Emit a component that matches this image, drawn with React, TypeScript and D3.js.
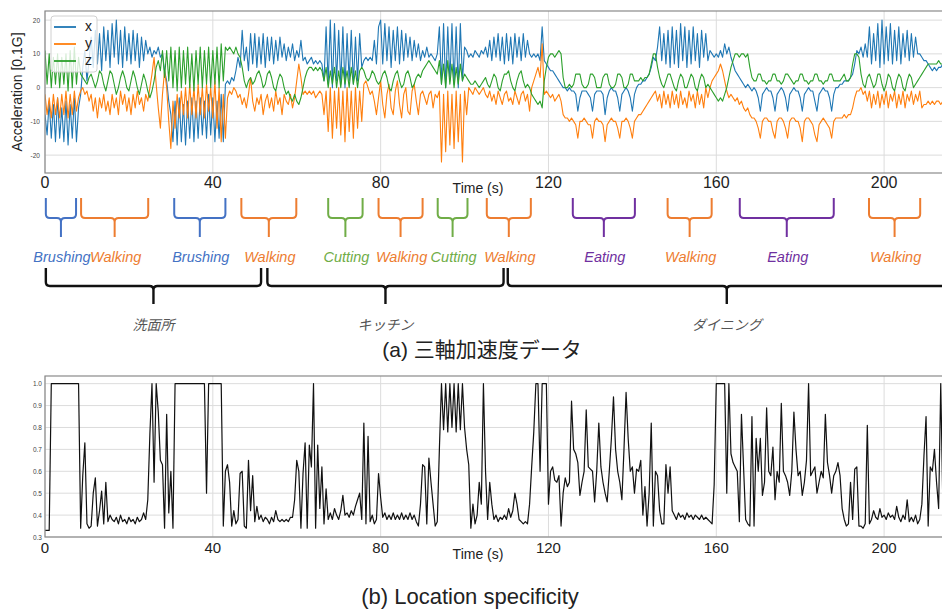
import React, { useEffect, useRef } from 'react';
import * as d3 from 'd3';

// The traced series are sampled every half second, starting at t = 0.
const STEP = 0.5;

// Acceleration, x axis [0.1G]
const accX = [
  -8, -14, -4, -15, -5, -16, -3, -15, -6, -16, -4, -17, -5, -15, -3, -16, -6, -2, 6, 11,
  2, 8, 15, 6, 17, 7, 16, 5, 18, 8, 17, 6, 19, 9, 20, 7, 17, 6, 18, 8,
  16, 7, 17, 8, 16, 6, 15, 8, 14, 10, 12, 9, 11, 10, 12, 9, 10, 5, 2, -4,
  -8, -16, -4, -17, -3, -16, -5, -17, -4, -15, -3, -16, -4, -15, -3, -14, -4, -15, -2, -14,
  -3, -16, -4, -15, -2, -16, 1, 2, 1, 3, 2, 5, 9, 6, 17, 8, 12, 5, 16, 7,
  16, 6, 15, 7, 16, 6, 15, 8, 15, 7, 14, 8, 15, 9, 13, 8, 12, 9, 13, 8,
  11, 9, 14, 8, 9, 7, 8, 9, 7, 8, 7, 8, 7, 2, 18, 1, 20, 0, 19, 2,
  17, 1, 18, 0, 16, 2, 17, 1, 15, 2, 16, 6, 8, 9, 8, 9, 8, 14, 7, 18,
  20, 7, 19, 8, 18, 6, 17, 8, 18, 7, 17, 8, 16, 9, 15, 8, 14, 9, 13, 8,
  11, 9, 12, 9, 10, 9, 8, 10, 18, 1, 19, 0, 18, 2, 19, 1, 18, 0, 19, 2,
  12, 11, 9, 10, 9, 11, 10, 9, 11, 10, 12, 9, 14, 8, 15, 9, 16, 8, 15, 7,
  16, 8, 15, 7, 16, 9, 15, 8, 16, 9, 14, 10, 9, 10, 9, 10, 8, 18, 8, 7,
  6, 5, 5, 4, 3, 2, 1, 0, 0, -1, 0, -1, -1, -2, -7, -3, -1, -1, -1, -2,
  -3, -7, -2, -1, -1, -1, -2, -8, -3, -1, 0, -1, -1, -3, -7, -2, -1, 0, -1, -3,
  -7, -2, 0, 1, 1, 2, 2, 3, 4, 6, 9, 8, 12, 18, 8, 16, 7, 17, 6, 18,
  7, 17, 6, 19, 8, 18, 6, 17, 7, 18, 8, 16, 6, 17, 9, 16, 8, 11, 10, 9,
  10, 9, 11, 9, 13, 10, 12, 9, 7, 5, 4, 3, 2, 1, 0, 1, 0, -1, 0, -1,
  -3, -7, -2, -1, 0, -1, -1, -3, -7, -2, -1, 0, -1, -3, -7, -2, -1, 0, -1, -1,
  -3, -7, -2, -1, 0, -1, -1, -4, -7, -2, -1, 0, -1, -1, -3, -7, -2, 0, 0, 1,
  1, 2, 2, 2, 3, 4, 7, 11, 10, 12, 9, 13, 9, 18, 7, 16, 8, 19, 6, 20,
  7, 18, 8, 19, 7, 17, 8, 18, 7, 16, 9, 17, 8, 16, 9, 15, 10, 10, 9, 8,
  8, 7, 6, 5, 6, 5, 6, 6, 7,
];

// Acceleration, y axis [0.1G]
const accY = [
  -2, -8, -3, -9, -2, -8, -3, -9, -2, -8, -1, -9, -2, -8, -1, -7, -3, -1, 0, -2,
  -1, -4, -2, -7, -3, -9, -3, -6, -2, -7, -4, -8, -2, -6, -3, -8, -1, -5, -2, -7,
  -3, -8, -2, -6, -1, -5, -3, -7, -2, -4, 0, 4, 9, 1, -6, -12, -2, 5, 0, -10,
  -18, -4, -12, -2, -9, -1, -8, 0, -9, 1, -8, 0, -9, 1, -8, 0, -9, 1, -7, 0,
  -9, 2, -12, 0, -16, -2, -15, -3, -1, -2, 0, -1, -3, -2, -5, -3, -6, -2, 3, -4,
  -7, -3, -5, -2, -8, -4, -2, -6, -3, -7, -1, -5, -3, -8, -2, -4, -5, -2, -6, -3,
  2, 7, 3, -2, -1, -2, -1, -2, -1, -3, -2, -1, -2, -8, -1, -13, 0, -15, -1, -12,
  0, -14, -1, -16, 0, -13, -1, -15, 0, -12, -1, -10, 1, 2, 0, -2, -1, -4, -8, -3,
  2, -5, -9, -2, 1, -6, -8, -1, 2, -5, -9, -2, 0, -7, -8, -1, 1, -4, -8, -2,
  -1, -3, -5, -2, -1, -6, -2, -3, -1, -22, -2, -19, -1, -17, -2, -18, -1, -16, -2, -22,
  -1, -8, 0, -1, -2, 0, -1, -2, -1, 0, -2, -3, -1, -4, -2, -5, -1, -3, -5, -2,
  -1, -4, -3, -5, -1, -3, -5, -2, -1, -4, -2, -7, 0, 2, 4, 6, 3, 13, -2, -1,
  -2, -3, -2, -4, -3, -2, -4, -8, -9, -9, -10, -9, -10, -11, -15, -10, -10, -9, -10, -11,
  -11, -15, -10, -9, -10, -10, -11, -16, -11, -10, -9, -10, -10, -12, -15, -10, -10, -9, -10, -12,
  -15, -10, -9, -8, -8, -7, -6, -5, -4, -3, -2, -1, -4, -2, -6, -1, -5, -2, -6, -1,
  -5, -2, -6, -1, -5, -3, -6, -1, -4, -2, -6, -1, -5, -2, -6, 0, -3, 0, 2, 3,
  4, 5, 7, 5, 2, -1, -3, -2, -3, -4, -3, -5, -4, -6, -7, -6, -8, -9, -9, -10,
  -12, -15, -10, -9, -9, -10, -10, -13, -15, -10, -9, -9, -10, -12, -15, -10, -9, -9, -10, -10,
  -12, -16, -10, -9, -9, -10, -11, -14, -16, -11, -10, -9, -10, -11, -12, -15, -10, -9, -9, -9,
  -9, -8, -9, -8, -8, -6, -3, -1, -1, 0, -2, -1, -4, -1, -6, -2, -5, -1, -6, -2,
  -5, -1, -6, -2, -4, -1, -6, -2, -5, -1, -6, -2, -4, -1, -5, -2, -4, -1, -6, -5,
  -5, -4, -5, -4, -5, -4, -4, -5, -4,
];

// Acceleration, z axis [0.1G]
const accZ = [
  11, 1, 10, 0, 9, 1, 10, 0, 9, 1, 10, -1, 11, 0, 12, 1, 9, 4, 3, 2,
  1, 3, 4, 2, 0, 2, 5, 4, 1, -1, 2, 5, 4, 1, -2, 0, 3, 5, 3, 0,
  -1, 2, 5, 3, 0, -2, 1, 4, 2, -1, -3, -1, 2, 6, 8, 5, 11, 3, 11, 2,
  12, 0, 11, -1, 12, 0, 11, 1, 12, 0, 10, -1, 11, 1, 12, 0, 11, 1, 12, 0,
  11, 1, 12, 0, 13, 2, 12, 11, 12, 11, 10, 12, 10, 9, 6, 2, 0, 2, 3, 1,
  2, 4, 5, 3, 0, 1, 4, 5, 3, 0, -1, 2, 4, 3, 0, -2, -1, -3, -4, -2,
  -4, -5, -3, 0, 3, 5, 6, 6, 5, 6, 5, 6, 5, 2, 6, 0, 5, 1, 6, 0,
  5, 0, 6, 1, 5, 0, 6, 1, 5, 0, 5, 6, 5, 3, 2, 3, 5, 4, 2, 1,
  2, 4, 5, 3, 0, -1, 2, 4, 5, 2, 0, 1, 4, 5, 3, 0, 1, 3, 4, 3,
  5, 6, 7, 8, 7, 6, 5, 4, 8, 1, 7, 0, 8, 1, 7, 0, 6, 1, 7, 2,
  4, 3, 2, 1, 1, 2, 1, 0, 1, 2, 3, 1, 0, 2, 4, 3, 0, -1, 2, 4,
  4, 5, 2, 0, -1, 2, 4, 5, 2, 0, 1, 0, -2, -3, -4, -5, -4, -6, 2, 6,
  9, 10, 10, 9, 10, 11, 10, 3, 0, 0, 1, 0, 1, 4, 4, 4, 1, 0, 0, 1,
  4, 4, 3, 0, 0, 0, 3, 4, 4, 1, 0, 0, 1, 4, 4, 3, 0, 0, 1, 4,
  4, 2, 2, 2, 3, 2, 3, 3, 4, 7, 10, 10, 6, 3, 1, 0, 2, 4, 4, 2,
  0, -1, 2, 4, 3, 0, 0, 2, 4, 3, 0, -1, 2, 4, 3, 0, 1, 0, -1, -2,
  -3, -4, -3, -4, -2, 0, 3, 6, 8, 10, 10, 9, 10, 10, 9, 10, 6, 3, 2, 2,
  4, 4, 2, 2, 1, 2, 2, 4, 4, 2, 2, 1, 2, 4, 4, 3, 2, 1, 2, 2,
  4, 4, 2, 2, 1, 2, 2, 4, 4, 2, 2, 1, 2, 2, 4, 4, 2, 2, 2, 2,
  3, 4, 2, 2, 3, 7, 10, 10, 9, 4, 1, 0, 3, 4, 2, 0, 1, 4, 4, 1,
  -1, 1, 4, 3, 0, -1, 2, 4, 3, 0, -1, 2, 4, 3, 0, 1, 2, 3, 4, 5,
  6, 7, 7, 7, 7, 7, 8, 7, 7,
];

// Location specificity
const specificity = [
  0.33, 0.33, 0.33, 1, 1, 1, 1, 1, 1, 1, 1, 1, 1, 1, 1, 1, 1, 0.34, 0.58, 0.73,
  0.36, 0.34, 0.35, 0.5, 0.57, 0.35, 0.42, 0.51, 0.36, 0.55, 0.37, 0.4, 0.38, 0.37, 0.39, 0.36, 0.4, 0.37, 0.38, 0.36,
  0.39, 0.37, 0.38, 0.36, 0.39, 0.37, 0.38, 0.41, 0.38, 0.47, 0.77, 1, 0.55, 1, 0.87, 0.65, 0.63, 0.34, 0.86, 0.41,
  0.6, 0.34, 1, 1, 1, 1, 1, 1, 1, 1, 1, 1, 1, 1, 1, 1, 1, 0.5, 1, 1,
  1, 1, 1, 1, 1, 0.35, 0.6, 0.63, 0.55, 0.35, 0.42, 0.36, 0.38, 0.59, 0.6, 0.35, 0.34, 0.65, 0.42, 0.58,
  0.37, 0.44, 0.38, 0.4, 0.37, 0.39, 0.38, 0.36, 0.39, 0.37, 0.42, 0.38, 0.37, 0.38, 0.37, 0.38, 0.37, 0.39, 0.39, 0.47,
  0.65, 0.6, 0.34, 0.59, 0.73, 0.34, 0.72, 0.62, 1, 0.34, 0.72, 0.43, 0.62, 0.36, 0.52, 0.38, 0.41, 0.38, 0.43, 0.4,
  0.38, 0.42, 0.49, 0.4, 0.41, 0.39, 0.42, 0.4, 0.44, 0.47, 0.5, 0.38, 0.82, 0.36, 0.76, 0.37, 0.4, 0.36, 0.38, 0.59,
  0.48, 0.39, 0.41, 0.38, 0.4, 0.38, 0.41, 0.38, 0.4, 0.38, 0.41, 0.38, 0.4, 0.38, 0.41, 0.38, 0.4, 0.37, 0.35, 0.45,
  0.63, 0.62, 0.36, 0.66, 0.55, 0.45, 0.35, 0.37, 0.7, 1, 0.79, 1, 0.78, 1, 0.8, 1, 0.78, 1, 0.79, 1,
  0.8, 0.7, 0.63, 0.34, 0.45, 0.36, 0.4, 0.55, 0.45, 1, 0.6, 0.38, 0.55, 0.45, 0.38, 0.4, 0.37, 0.39, 0.38, 0.4,
  0.38, 0.43, 0.39, 0.42, 0.5, 0.45, 0.38, 0.37, 0.36, 0.37, 0.36, 0.45, 0.62, 0.78, 1, 1, 0.6, 1, 1, 1,
  0.45, 0.6, 0.62, 0.56, 0.55, 0.58, 0.35, 0.5, 0.57, 0.53, 0.55, 0.92, 0.7, 0.68, 0.64, 0.49, 0.55, 0.6, 0.88, 0.62,
  0.61, 0.6, 0.46, 0.6, 0.82, 0.62, 0.55, 0.5, 0.46, 0.6, 0.75, 0.94, 0.7, 0.6, 0.55, 0.47, 0.7, 0.96, 0.75, 0.6,
  0.62, 0.5, 0.61, 0.6, 0.65, 0.4, 0.53, 0.35, 0.5, 0.82, 0.35, 0.6, 0.58, 0.42, 0.36, 0.36, 0.63, 0.5, 0.62, 0.42,
  0.4, 0.38, 0.41, 0.39, 0.4, 0.38, 0.41, 0.39, 0.4, 0.38, 0.4, 0.39, 0.38, 0.4, 0.38, 0.39, 0.38, 0.37, 0.36, 0.54,
  1, 1, 1, 1, 1, 0.5, 1, 0.68, 0.64, 0.62, 0.6, 0.37, 0.86, 0.62, 0.38, 0.36, 0.35, 0.85, 0.35, 0.75,
  0.6, 0.75, 0.49, 0.55, 0.89, 0.6, 0.58, 0.71, 0.47, 0.6, 0.55, 0.91, 0.6, 0.58, 0.55, 0.49, 0.6, 0.87, 0.7, 0.58,
  0.6, 0.49, 0.55, 0.65, 1, 0.58, 0.6, 0.62, 0.5, 0.55, 0.6, 0.57, 0.86, 0.64, 0.58, 0.5, 0.58, 0.6, 0.64, 0.58,
  0.43, 0.38, 0.35, 0.36, 0.55, 0.38, 0.61, 0.62, 0.35, 0.35, 0.34, 0.36, 0.81, 0.36, 0.38, 0.42, 0.39, 0.38, 0.43, 0.39,
  0.4, 0.38, 0.41, 0.39, 0.4, 0.38, 0.44, 0.39, 0.37, 0.4, 0.38, 0.47, 0.37, 0.39, 0.37, 0.4, 0.36, 0.38, 0.45, 0.67,
  0.85, 0.35, 0.62, 0.6, 0.7, 0.55, 0.43, 1, 0.45,
];

const seriesNames = ['x', 'y', 'z'];
const timeTicks = [0, 40, 80, 120, 160, 200];
const accTicks = [-20, -10, 0, 10, 20];
const specTicks = [0.3, 0.4, 0.5, 0.6, 0.7, 0.8, 0.9, 1.0];

// activity segments (seconds)
const activityNames = ['Brushing', 'Walking', 'Brushing', 'Walking', 'Cutting', 'Walking', 'Cutting', 'Walking', 'Eating', 'Walking', 'Eating', 'Walking'];
const activityStart = [0.2, 8.6, 30.8, 46.8, 67.5, 79.5, 93.6, 105.3, 125.8, 148.4, 165.6, 196.4];
const activityEnd = [7.4, 24.6, 43.0, 59.9, 75.7, 90.0, 100.7, 115.8, 140.6, 158.9, 188.0, 208.6];

// location segments (seconds)
const locationNames = ['洗面所', 'キッチン', 'ダイニング'];
const locationStart = [0.2, 53.0, 110.3];
const locationEnd = [51.5, 109.3, 214.7];

const lineColors: Record<string, string> = { x: '#1f77b4', y: '#ff7f0e', z: '#2ca02c' };
const activityColors: Record<string, string> = {
  Brushing: '#4472C4',
  Walking: '#ED7D31',
  Cutting: '#70AD47',
  Eating: '#7030A0',
};

const FONT = "'Liberation Sans', Arial, sans-serif";
const JP_FONT = "'Noto Sans CJK JP', 'Liberation Sans', sans-serif";

// curly-ish bracket: ends point up, stem points down from the middle
const bracePath = (x0: number, x1: number, yTop: number, yBar: number, yStem: number, r: number) => {
  const xm = (x0 + x1) / 2;
  return `M${x0},${yTop} L${x0},${yBar - r} Q${x0},${yBar} ${x0 + r},${yBar} L${xm - r},${yBar} Q${xm},${yBar} ${xm},${yBar + r} L${xm},${yStem}` +
    ` M${xm},${yBar + r} Q${xm},${yBar} ${xm + r},${yBar} L${x1 - r},${yBar} Q${x1},${yBar} ${x1},${yBar - r} L${x1},${yTop}`;
};

const App = () => {
  const svgRef = useRef<SVGSVGElement>(null);

  useEffect(() => {
    const svg = d3.select(svgRef.current);
    svg.selectAll('*').remove();

    const width = 942;
    const height = 609;
    svg.attr('width', width).attr('height', height);

    const x = d3.scaleLinear().domain([0, 213.8]).range([45, 942]);
    const yAcc = d3.scaleLinear().domain([-25.3, 22.7]).range([173, 11]);
    const ySpec = d3.scaleLinear().domain([0.3, 1.035]).range([537, 376]);

    const defs = svg.append('defs');
    defs.append('clipPath').attr('id', 'clipTop')
      .append('rect').attr('x', 45).attr('y', 11).attr('width', 900).attr('height', 162);
    defs.append('clipPath').attr('id', 'clipBottom')
      .append('rect').attr('x', 45).attr('y', 376).attr('width', 900).attr('height', 161);

    // ---------- (a) acceleration panel ----------
    const top = svg.append('g');

    top.selectAll('.gx').data(timeTicks).enter().append('line')
      .attr('x1', (d) => x(d)).attr('x2', (d) => x(d))
      .attr('y1', 11).attr('y2', 173)
      .attr('stroke', '#dcdcdc').attr('stroke-width', 1);
    top.selectAll('.gy').data(accTicks).enter().append('line')
      .attr('x1', 45).attr('x2', 942)
      .attr('y1', (d) => yAcc(d)).attr('y2', (d) => yAcc(d))
      .attr('stroke', '#dcdcdc').attr('stroke-width', 1);

    const series = [accX, accY, accZ];
    const accLine = d3.line<number>()
      .x((_, i) => x(i * STEP))
      .y((d) => yAcc(d));

    const lines = top.append('g').attr('clip-path', 'url(#clipTop)');
    series.forEach((s, k) => {
      lines.append('path')
        .datum(s)
        .attr('d', accLine)
        .attr('fill', 'none')
        .attr('stroke', lineColors[seriesNames[k]])
        .attr('stroke-width', 1.1)
        .attr('stroke-linejoin', 'round');
    });

    top.append('rect')
      .attr('x', 45).attr('y', 11).attr('width', 910).attr('height', 162)
      .attr('fill', 'none').attr('stroke', '#8a8a8a').attr('stroke-width', 1.2);

    top.selectAll('.ty').data(accTicks).enter().append('text')
      .attr('x', 40).attr('y', (d) => yAcc(d) + 2.5)
      .attr('text-anchor', 'end')
      .style('font-family', FONT).style('font-size', '6.5px').style('fill', '#444')
      .text((d) => d);

    top.selectAll('.tx').data(timeTicks).enter().append('text')
      .attr('x', (d) => x(d)).attr('y', 188)
      .attr('text-anchor', 'middle')
      .style('font-family', FONT).style('font-size', '16px').style('fill', '#222')
      .text((d) => d);

    top.append('text')
      .attr('x', 478).attr('y', 193)
      .attr('text-anchor', 'middle')
      .style('font-family', FONT).style('font-size', '14px').style('fill', '#222')
      .text('Time (s)');

    top.append('text')
      .attr('transform', 'translate(22,92) rotate(-90)')
      .attr('text-anchor', 'middle')
      .style('font-family', FONT).style('font-size', '14px').style('fill', '#222')
      .text('Acceleration [0.1G]');

    // legend
    const legend = top.append('g');
    legend.append('rect')
      .attr('x', 51).attr('y', 16).attr('width', 46).attr('height', 56).attr('rx', 3)
      .attr('fill', '#fff').attr('fill-opacity', 0.8)
      .attr('stroke', '#d0d0d0').attr('stroke-width', 1);
    seriesNames.forEach((name, k) => {
      const ly = 27 + k * 17;
      legend.append('line')
        .attr('x1', 54).attr('x2', 76).attr('y1', ly).attr('y2', ly)
        .attr('stroke', lineColors[name]).attr('stroke-width', 1.8);
      legend.append('text')
        .attr('x', 85).attr('y', ly + 4)
        .style('font-family', FONT).style('font-size', '14px').style('fill', '#222')
        .text(name);
    });

    // ---------- activity / location annotations ----------
    const notes = svg.append('g');
    activityNames.forEach((name, i) => {
      const x0 = x(activityStart[i]);
      const x1 = x(activityEnd[i]);
      notes.append('path')
        .attr('d', bracePath(x0, x1, 198, 218, 237, 4))
        .attr('fill', 'none')
        .attr('stroke', activityColors[name])
        .attr('stroke-width', 2);
      notes.append('text')
        .attr('x', (x0 + x1) / 2 + 1).attr('y', 262)
        .attr('text-anchor', 'middle')
        .style('font-family', FONT).style('font-size', '14.5px').style('font-style', 'italic')
        .style('fill', activityColors[name])
        .text(name);
    });

    locationNames.forEach((name, i) => {
      const x0 = x(locationStart[i]);
      const x1 = x(locationEnd[i]);
      notes.append('path')
        .attr('d', bracePath(x0, x1, 268, 286, 304, 4))
        .attr('fill', 'none')
        .attr('stroke', '#111')
        .attr('stroke-width', 2.4);
      notes.append('text')
        .attr('x', (x0 + x1) / 2).attr('y', 330)
        .attr('text-anchor', 'middle')
        .style('font-family', JP_FONT).style('font-size', '14px').style('font-style', 'italic')
        .style('fill', '#555')
        .text(name);
    });

    const capA = svg.append('text')
      .attr('x', 482).attr('y', 357)
      .attr('text-anchor', 'middle')
      .style('font-size', '21px').style('fill', '#222');
    capA.append('tspan').style('font-family', FONT).text('(a) ');
    capA.append('tspan').style('font-family', JP_FONT).text('三軸加速度データ');

    // ---------- (b) location specificity panel ----------
    const bottom = svg.append('g');

    bottom.selectAll('.gx').data(timeTicks).enter().append('line')
      .attr('x1', (d) => x(d)).attr('x2', (d) => x(d))
      .attr('y1', 376).attr('y2', 537)
      .attr('stroke', '#dcdcdc').attr('stroke-width', 1);
    bottom.selectAll('.gy').data(specTicks).enter().append('line')
      .attr('x1', 45).attr('x2', 942)
      .attr('y1', (d) => ySpec(d)).attr('y2', (d) => ySpec(d))
      .attr('stroke', '#dcdcdc').attr('stroke-width', 1);

    const specLine = d3.line<number>()
      .x((_, i) => x(i * STEP))
      .y((d) => ySpec(d));

    bottom.append('g').attr('clip-path', 'url(#clipBottom)')
      .append('path')
      .datum(specificity)
      .attr('d', specLine)
      .attr('fill', 'none')
      .attr('stroke', '#111')
      .attr('stroke-width', 1.2)
      .attr('stroke-linejoin', 'round');

    bottom.append('rect')
      .attr('x', 45).attr('y', 376).attr('width', 910).attr('height', 161)
      .attr('fill', 'none').attr('stroke', '#8a8a8a').attr('stroke-width', 1.2);

    bottom.selectAll('.ty').data(specTicks).enter().append('text')
      .attr('x', 42).attr('y', (d) => ySpec(d) + 2.5)
      .attr('text-anchor', 'end')
      .style('font-family', FONT).style('font-size', '6.5px').style('fill', '#444')
      .text((d) => d.toFixed(1));

    bottom.selectAll('.tx').data(timeTicks).enter().append('text')
      .attr('x', (d) => x(d)).attr('y', 553)
      .attr('text-anchor', 'middle')
      .style('font-family', FONT).style('font-size', '15px').style('fill', '#222')
      .text((d) => d);

    bottom.append('text')
      .attr('x', 478).attr('y', 559)
      .attr('text-anchor', 'middle')
      .style('font-family', FONT).style('font-size', '14px').style('fill', '#222')
      .text('Time (s)');

    svg.append('text')
      .attr('x', 470).attr('y', 604)
      .attr('text-anchor', 'middle')
      .style('font-family', FONT).style('font-size', '22px').style('fill', '#222')
      .text('(b) Location specificity');
  }, []);

  return (
    <div style={{ position: 'absolute', left: 0, top: 0, background: '#fff' }}>
      <svg ref={svgRef} style={{ display: 'block' }}></svg>
    </div>
  );
};

export default App;
